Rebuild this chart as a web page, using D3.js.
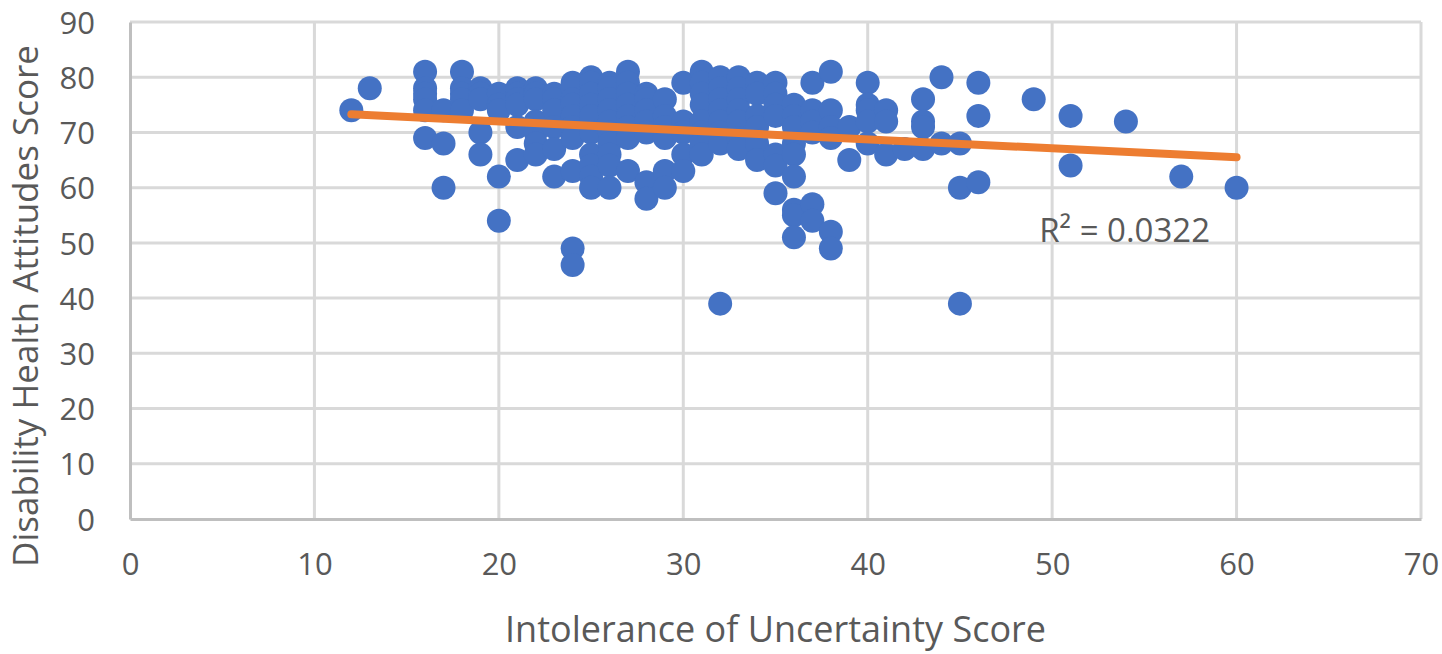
<!DOCTYPE html>
<html>
<head>
<meta charset="utf-8">
<script src="https://cdn.jsdelivr.net/npm/d3@7"></script>
<style>
	body { margin: 0; background: #fff; }
	svg text { font-family: "Open Sans", "Noto Sans", sans-serif; fill: #595959; }
</style>
</head>
<body>
<div id="chart"></div>
<script>
// intolerance of uncertainty (x) and disability health attitudes (y)
let iuScores = [
	12, 13,
	16, 16, 16, 16, 16, 16,
	17, 17, 17,
	18, 18, 18, 18, 18,
	19, 19, 19, 19, 19,
	20, 20, 20, 20, 20,
	21, 21, 21, 21, 21, 21,
	22, 22, 22, 22, 22, 22, 22,
	23, 23, 23, 23, 23, 23,
	24, 24, 24, 24, 24, 24, 24, 24, 24, 24,
	25, 25, 25, 25, 25, 25, 25, 25, 25, 25,
	26, 26, 26, 26, 26, 26, 26, 26, 26, 26,
	27, 27, 27, 27, 27, 27, 27, 27,
	28, 28, 28, 28, 28, 28, 28,
	29, 29, 29, 29, 29, 29,
	30, 30, 30, 30, 30,
	31, 31, 31, 31, 31, 31, 31, 31,
	32, 32, 32, 32, 32, 32, 32, 32,
	33, 33, 33, 33, 33, 33, 33,
	34, 34, 34, 34, 34, 34,
	35, 35, 35, 35, 35, 35, 35,
	36, 36, 36, 36, 36, 36, 36, 36, 36,
	37, 37, 37, 37, 37, 37,
	38, 38, 38, 38, 38, 38,
	39, 39,
	40, 40, 40, 40, 40,
	41, 41, 41,
	42,
	43, 43, 43, 43,
	44, 44,
	45, 45, 45,
	46, 46, 46,
	49, 51, 51, 54, 57, 60
];
let dhaScores = [
	74, 78,
	81, 78, 77, 76, 74, 69,
	74, 68, 60,
	81, 78, 77, 76, 74,
	78, 77, 76, 70, 66,
	77, 75, 74, 62, 54,
	78, 77, 76, 75, 71, 65,
	78, 77, 76, 72, 70, 68, 66,
	77, 76, 74, 71, 67, 62,
	79, 78, 76, 75, 73, 71, 69, 63, 49, 46,
	80, 79, 77, 75, 73, 70, 66, 64, 62, 60,
	79, 78, 76, 74, 72, 70, 68, 66, 64, 60,
	81, 79, 77, 75, 73, 71, 69, 63,
	77, 76, 74, 72, 70, 61, 58,
	76, 73, 71, 69, 63, 60,
	79, 72, 70, 66, 63,
	81, 79, 77, 75, 72, 70, 68, 66,
	80, 78, 76, 74, 72, 70, 68, 39,
	80, 78, 76, 74, 72, 69, 67,
	79, 77, 73, 71, 68, 65,
	79, 77, 75, 73, 66, 64, 59,
	75, 73, 71, 68, 66, 62, 56, 55, 51,
	79, 74, 72, 70, 57, 54,
	81, 74, 71, 69, 52, 49,
	71, 65,
	79, 75, 74, 72, 68,
	74, 72, 66,
	67,
	76, 72, 71, 67,
	80, 68,
	68, 60, 39,
	79, 73, 61,
	76, 73, 64, 72, 62, 60
];

// linear trend line as drawn in the reference
let trendX = [12, 60];
let trendY = [73.3, 65.5];
let rSquaredLabel = "R\u00B2 = 0.0322";

let xTicks = [0, 10, 20, 30, 40, 50, 60, 70];
let yTicks = [0, 10, 20, 30, 40, 50, 60, 70, 80, 90];

let width = 1442, height = 654;
let padding = {top: 22, right: 21, bottom: 135, left: 130};

let svg = d3.select("#chart")
	.append("svg")
	.attr("width", width)
	.attr("height", height);

let xScale = d3.scaleLinear()
	.domain([0, 70])
	.range([padding.left, width - padding.right]);

let yScale = d3.scaleLinear()
	.domain([0, 90])
	.range([height - padding.bottom, padding.top]);

// gridlines
svg.append("g")
	.selectAll("line.vgrid")
	.data(xTicks.slice(1))
	.enter()
	.append("line")
	.attr("class", "vgrid")
	.attr("x1", d => xScale(d)).attr("x2", d => xScale(d))
	.attr("y1", yScale(0)).attr("y2", yScale(90))
	.attr("stroke", "#d9d9d9")
	.attr("stroke-width", 3);

svg.append("g")
	.selectAll("line.hgrid")
	.data(yTicks.slice(1))
	.enter()
	.append("line")
	.attr("class", "hgrid")
	.attr("x1", xScale(0)).attr("x2", xScale(70))
	.attr("y1", d => yScale(d)).attr("y2", d => yScale(d))
	.attr("stroke", "#d9d9d9")
	.attr("stroke-width", 3);

// axes
let xAxis = d3.axisBottom(xScale).tickValues(xTicks).tickSize(0).tickPadding(34);
let yAxis = d3.axisLeft(yScale).tickValues(yTicks).tickSize(0).tickPadding(35);

let gx = svg.append("g")
	.attr("transform", "translate(0," + yScale(0) + ")")
	.call(xAxis);
let gy = svg.append("g")
	.attr("transform", "translate(" + xScale(0) + ",0)")
	.call(yAxis);

[gx, gy].forEach(g => {
	g.select(".domain").attr("stroke", "#bfbfbf").attr("stroke-width", 3);
	g.selectAll("text")
		.style("font-size", "31px")
		.attr("fill", "#595959")
		.style("font-family", "'Open Sans', sans-serif");
});
gy.selectAll("text").attr("dy", "0.36em");

// points
let points = iuScores.map((x, i) => ({x: x, y: dhaScores[i]}));

svg.append("g")
	.selectAll("circle")
	.data(points)
	.enter()
	.append("circle")
	.attr("cx", d => xScale(d.x))
	.attr("cy", d => yScale(d.y))
	.attr("r", 12)
	.attr("fill", "#4472c4");

// trend line
let trendLine = d3.line()
	.x(d => xScale(d[0]))
	.y(d => yScale(d[1]));

svg.append("path")
	.datum(trendX.map((x, i) => [x, trendY[i]]))
	.attr("d", trendLine)
	.attr("fill", "none")
	.attr("stroke", "#ed7d31")
	.attr("stroke-width", 8)
	.attr("stroke-linecap", "round");

svg.append("text")
	.attr("x", xScale(49.3))
	.attr("y", yScale(50.2))
	.style("font-size", "33px")
	.text(rSquaredLabel);

// axis titles
svg.append("text")
	.attr("x", (xScale(0) + xScale(70)) / 2)
	.attr("y", 642)
	.style("text-anchor", "middle")
	.style("font-size", "36px")
	.text("Intolerance of Uncertainty Score");

svg.append("text")
	.attr("transform", "translate(38,306) rotate(-90)")
	.style("text-anchor", "middle")
	.style("font-size", "35px")
	.text("Disability Health Attitudes Score");
</script>
</body>
</html>
